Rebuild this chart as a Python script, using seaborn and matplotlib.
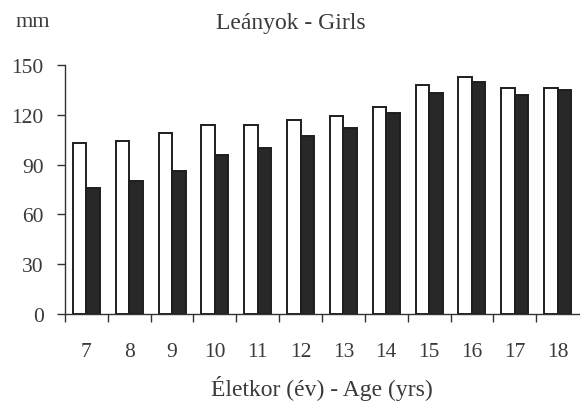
import numpy as np
import pandas as pd
import matplotlib
matplotlib.use("Agg")
import matplotlib.pyplot as plt
import seaborn as sns

# Ages (years) and the two measured series, in mm
ages = ["7", "8", "9", "10", "11", "12", "13", "14", "15", "16", "17", "18"]
series_open = [103, 104, 109, 114, 114, 117, 119, 125, 138, 143, 136, 136]
series_filled = [76, 80, 86, 96, 100, 107, 112, 121, 133, 140, 132, 135]
y_ticks = [0, 30, 60, 90, 120, 150]

title = "Leányok - Girls"
unit_label = "mm"
x_label = "Életkor (év) - Age (yrs)"

df = pd.DataFrame({
    "age": ages * 2,
    "value": series_open + series_filled,
    "series": ["open"] * len(ages) + ["filled"] * len(ages),
})

sns.set_theme(style="white")
plt.rcParams["font.family"] = ["Liberation Serif", "DejaVu Serif"]
text_color = "#3a3a3a"
line_color = "#333333"

W, H = 580, 406
fig = plt.figure(figsize=(W / 100, H / 100), dpi=100)
ax = fig.add_axes([65 / W, 1 - 315 / H, (579 - 65) / W, (315 - 66) / H])

sns.barplot(
    data=df, x="age", y="value", hue="series", order=ages,
    hue_order=["open", "filled"], palette=["white", "#282828"],
    edgecolor="#1e1e1e", linewidth=1.4, width=0.63, legend=False,
    saturation=1, ax=ax,
)

ax.set_xlim(-0.5, 11.5)
ax.set_ylim(0, 150)
ax.set_yticks(y_ticks)
ax.set_yticklabels([str(v) for v in y_ticks])
ax.set_xticks(np.arange(-0.5, 11.0, 1.0), minor=True)

ax.tick_params(axis="y", which="major", direction="out", length=5.8, width=1.0,
               color=line_color, labelsize=15.5, labelcolor=text_color, pad=9.5, left=True)
ax.tick_params(axis="x", which="major", length=0, labelsize=15.5,
               labelcolor=text_color, pad=20)
ax.tick_params(axis="x", which="minor", direction="out", length=5.8, width=1.0,
               color=line_color, bottom=True)

for side in ["top", "right"]:
    ax.spines[side].set_visible(False)
for side in ["left", "bottom"]:
    ax.spines[side].set_color(line_color)
    ax.spines[side].set_linewidth(1.0)

ax.set_xlabel("")
ax.set_ylabel("")
ax.grid(False)

fig.text(290.5 / W, 1 - 29 / H, title, ha="center", va="baseline",
         fontsize=17, color=text_color)
fig.text(16 / W, 1 - 27 / H, unit_label, ha="left", va="baseline",
         fontsize=16, color=text_color)
fig.text(321.5 / W, 1 - 396 / H, x_label, ha="center", va="baseline",
         fontsize=17, color=text_color)

fig.savefig("out.png", dpi=100, facecolor="white")
